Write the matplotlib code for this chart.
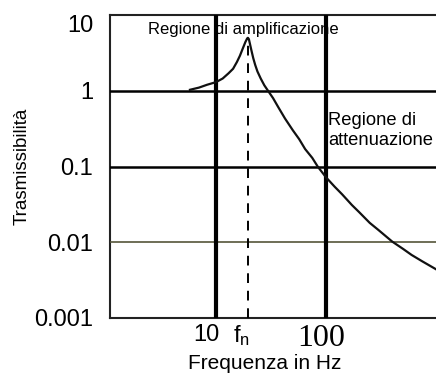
#Transmissibility curve: amplification / attenuation regions

import numpy as np
import matplotlib.pyplot as plt
import matplotlib.transforms as mtransforms

plt.rcParams['font.family'] = ['Liberation Sans', 'DejaVu Sans']
plt.rcParams['mathtext.fontset'] = 'custom'
plt.rcParams['mathtext.rm'] = 'Liberation Sans'
plt.rcParams['mathtext.it'] = 'Liberation Sans'

#-----------------------------------------------------------------------#
# Data
#-----------------------------------------------------------------------#
freq = [5.8, 7.0, 8.3, 10.0, 11.5, 13.0, 14.3, 15.5, 16.5, 17.5, 18.5, 19.2,
        19.5, 19.9, 20.4, 21.0, 21.8, 22.7, 23.8, 25.5, 27.5, 29.7, 33.0,
        37.0, 42.4, 50.0, 57.0, 64.6, 75.0, 84.0, 100.0, 120.0, 140.0, 172.0,
        200.0, 250.0, 300.0, 400.0, 500.0, 600.0, 750.0, 1000.0]
trans = [1.03, 1.1, 1.2, 1.3, 1.45, 1.7, 1.95, 2.4, 2.9, 3.6, 4.4, 4.9,
         5.0, 4.8, 4.1, 3.4, 2.7, 2.2, 1.8, 1.45, 1.18, 1.0, 0.8,
         0.6, 0.43, 0.3, 0.23, 0.17, 0.13, 0.1, 0.072, 0.054, 0.043, 0.031,
         0.025, 0.018, 0.0145, 0.0102, 0.0082, 0.0068, 0.0056, 0.0044]

fn = 19.5
ylevels = [10, 1, 0.1, 0.01, 0.001]
ylabels = ['10', '1', '0.1', '0.01', '0.001']
xticks = [10, fn, 100]
xlabels = ['10', r'$\mathregular{f_n}$', '100']

#-----------------------------------------------------------------------#
fig = plt.figure(figsize=(4.36, 3.74), dpi=100)
ax = fig.add_axes([110/436, 1 - 318/374, 1 - 110/436, 303/374])
ax.set_xscale('log')
ax.set_yscale('log')
ax.set_xlim(1.0874, 1000)
ax.set_ylim(0.001, 10)

# grid lines
ax.axhline(1, color='black', lw=1.8, zorder=3)
ax.axhline(0.1, color='black', lw=1.8, zorder=3)
ax.axhline(0.01, color='#55553a', lw=1.2, zorder=3)
ax.axvline(10, color='black', lw=3.0, zorder=4)
ax.axvline(100, color='black', lw=3.0, zorder=4)

# natural frequency
ax.plot([fn, fn], [0.001, 5.0], color='black', lw=1.4, ls=(0, (5, 4)), zorder=3)

# curve
ax.plot(freq, trans, color='#111111', lw=1.6, zorder=5)

for s in ['left', 'bottom', 'top']:
    ax.spines[s].set_linewidth(1.5)
    ax.spines[s].set_color('#222222')
ax.spines['right'].set_visible(False)

ax.minorticks_off()
ax.set_yticks(ylevels)
ax.set_yticklabels(ylabels, fontsize=17)
ax.set_xticks(xticks)
ax.set_xticklabels(xlabels, fontsize=17)
ax.tick_params(axis='y', length=0, pad=12)
ax.tick_params(axis='x', length=0, pad=4)

# top label "10" sits a bit below the frame
ylab = ax.get_yticklabels()
off = mtransforms.ScaledTranslation(0, -9 / 100, fig.dpi_scale_trans)
ylab[0].set_transform(ylab[0].get_transform() + off)

lbls = ax.get_xticklabels()
lbls[2].set_fontfamily('Liberation Serif')
lbls[2].set_fontsize(23)
shifts = [-10, -6, -5]
for lab, dx in zip(lbls, shifts):
    off = mtransforms.ScaledTranslation(dx / 100, 0, fig.dpi_scale_trans)
    lab.set_transform(lab.get_transform() + off)

ax.set_xlabel('Frequenza in Hz', fontsize=15)
ax.xaxis.set_label_coords(0.475, -0.119)
ax.set_ylabel('Trasmissibilità', fontsize=13.5, labelpad=2.5)

ax.text(2.41, 5.6, 'Regione di amplificazione', fontsize=12, va='baseline',
        ha='left', zorder=2)
ax.text(104, 0.357, 'Regione di', fontsize=13.2, va='baseline',
        ha='left', zorder=2)
ax.text(104, 0.195, 'attenuazione', fontsize=13.2, va='baseline',
        ha='left', zorder=2)

fig.savefig('out.png', dpi=100)
